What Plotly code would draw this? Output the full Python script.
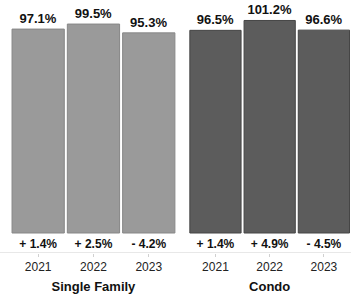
import plotly.graph_objects as go

years = ["2021", "2022", "2023"]
sf_values = [97.1, 99.5, 95.3]
condo_values = [96.5, 101.2, 96.6]
sf_changes = ["+ 1.4%", "+ 2.5%", "- 4.2%"]
condo_changes = ["+ 1.4%", "+ 4.9%", "- 4.5%"]
groups = ["Single Family", "Condo"]

FONT = "Liberation Sans, Arial, Helvetica, sans-serif"
Y_MIN, Y_MAX = -9.52, 110.95
CHANGE_Y = -5.5

fig = go.Figure()

def add_group(values, changes, fill, edge, xa, ya):
    fig.add_trace(go.Bar(
        x=years, y=values, xaxis=xa, yaxis=ya,
        marker=dict(color=fill, line=dict(color=edge, width=1)),
        text=[f"{v:.1f}%" for v in values], textposition="outside",
        textfont=dict(family=FONT, size=13, color="#111111", weight="bold"),
        cliponaxis=False, showlegend=False, hoverinfo="skip",
    ))
    fig.add_trace(go.Scatter(
        x=years, y=[CHANGE_Y] * len(years), xaxis=xa, yaxis=ya,
        mode="text", text=changes,
        textfont=dict(family=FONT, size=12, color="#111111", weight="bold"),
        showlegend=False, hoverinfo="skip", cliponaxis=False,
    ))

add_group(sf_values, sf_changes, "#9a9a9a", "#878787", "x", "y")
add_group(condo_values, condo_changes, "#5c5c5c", "#454545", "x2", "y2")

xcommon = dict(
    type="category", showgrid=False, zeroline=False, showline=False,
    ticks="outside", ticklen=3, tickcolor="#d0d0d0", tickwidth=1,
    tickfont=dict(family=FONT, size=12, color="#222222"),
    ticklabelstandoff=0,
)
ycommon = dict(range=[Y_MIN, Y_MAX], visible=False, showgrid=False, zeroline=False)

fig.update_layout(
    width=351, height=301,
    margin=dict(l=10, r=0, t=0, b=48),
    paper_bgcolor="white", plot_bgcolor="white",
    bargap=0.055,
    xaxis=dict(domain=[0.0015, 0.488], anchor="y",
               title=dict(text=f"<b>{groups[0]}</b>", standoff=8,
                          font=dict(family=FONT, size=13, color="#111111")),
               **xcommon),
    xaxis2=dict(domain=[0.523, 1.0], anchor="y2",
                title=dict(text=f"<b>{groups[1]}</b>", standoff=8,
                           font=dict(family=FONT, size=13, color="#111111")),
                **xcommon),
    yaxis=dict(anchor="x", **ycommon),
    yaxis2=dict(anchor="x2", **ycommon),
    shapes=[dict(type="line", xref="paper", yref="y", x0=-0.03, x1=1.0,
                 y0=Y_MIN, y1=Y_MIN, line=dict(color="#e0e0e0", width=1.5))],
)

fig.write_html(
    "out.html",
    config={"displayModeBar": False},
    post_script="document.body.style.margin='0';document.body.style.overflow='hidden';",
)
